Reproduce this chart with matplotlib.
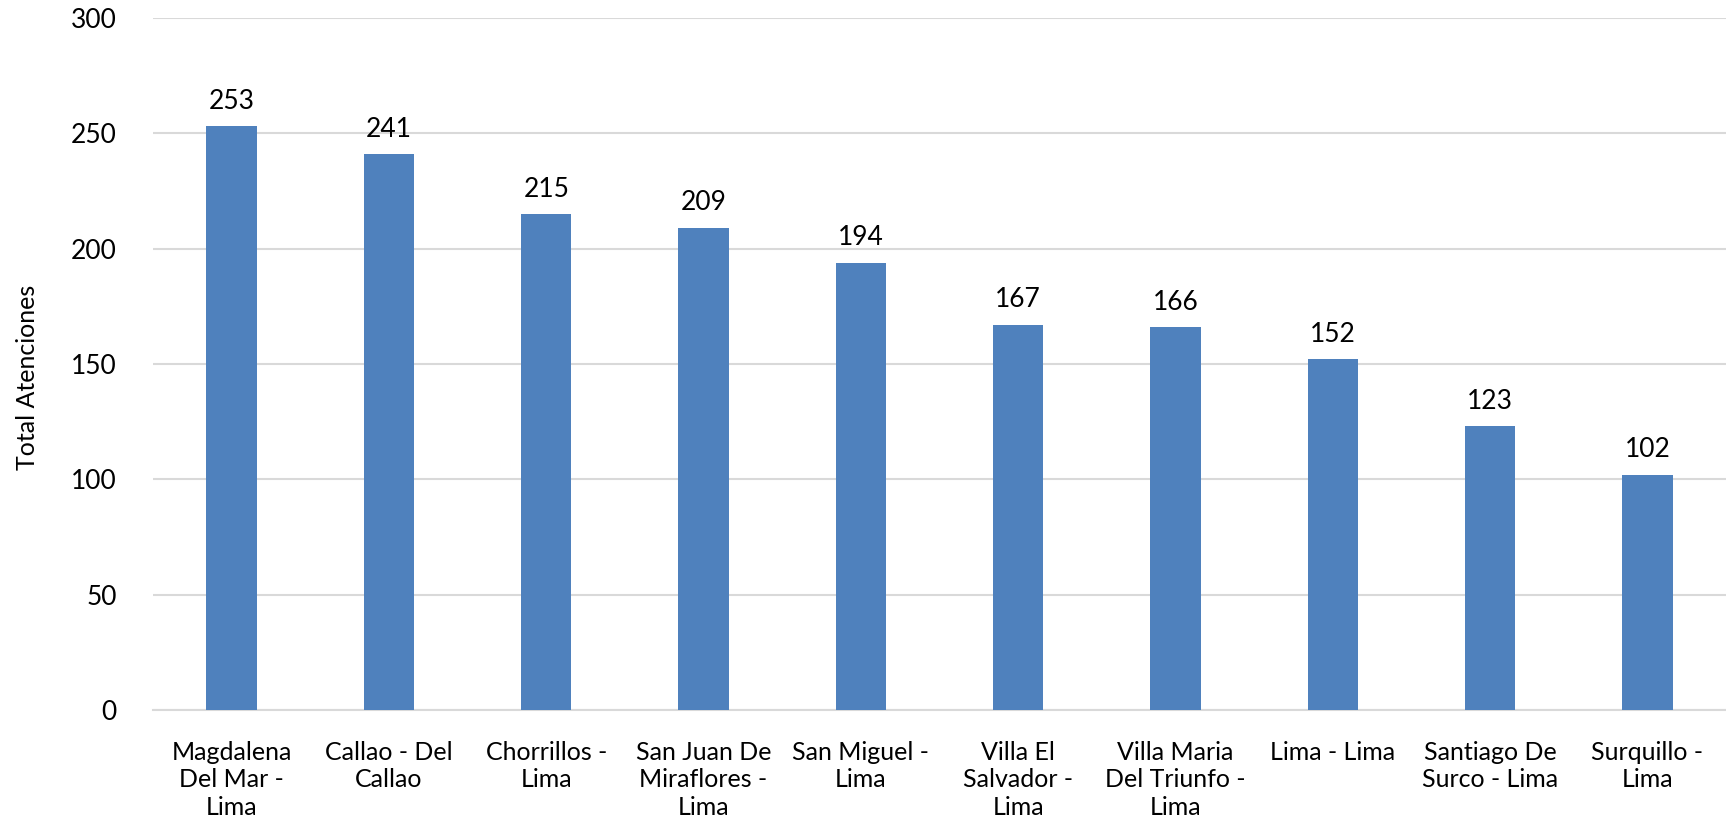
import matplotlib.pyplot as plt
import numpy as np

distritos = ['Magdalena\nDel Mar -\nLima', 'Callao - Del\nCallao', 'Chorrillos -\nLima',
             'San Juan De\nMiraflores -\nLima', 'San Miguel -\nLima', 'Villa El\nSalvador -\nLima',
             'Villa Maria\nDel Triunfo -\nLima', 'Lima - Lima', 'Santiago De\nSurco - Lima',
             'Surquillo -\nLima']
atenciones = [253, 241, 215, 209, 194, 167, 166, 152, 123, 102]
yticks = [0, 50, 100, 150, 200, 250, 300]

plt.rcParams['font.family'] = ['Lato', 'DejaVu Sans']

fig = plt.figure(figsize=(17.26, 8.31), dpi=100)
ax = fig.add_axes([153 / 1726, 1 - 710 / 831, 1 - 153 / 1726, (710 - 18) / 831])

x = np.arange(len(distritos))
bars = ax.bar(x, atenciones, width=0.32, color='#4F81BD', zorder=3)

for b, v in zip(bars, atenciones):
    ax.annotate(str(v), (b.get_x() + b.get_width() / 2, v), xytext=(0, 9),
                textcoords='offset points', ha='center', va='bottom', fontsize=19)

ax.set_xlim(-0.5, len(distritos) - 0.5)
ax.set_ylim(0, 300)
ax.set_yticks(yticks)
ax.set_xticks(x)
ax.set_xticklabels(distritos, fontsize=18, linespacing=1.25)
ax.tick_params(axis='y', labelsize=19, length=0, pad=26)
ax.tick_params(axis='x', length=0, pad=22)
ax.grid(axis='y', color='#D9D9D9', linewidth=1.5, zorder=0)
for s in ['top', 'right', 'left']:
    ax.spines[s].set_visible(False)
ax.spines['bottom'].set_color('#D9D9D9')
ax.spines['bottom'].set_linewidth(1.5)
ax.set_ylabel('Total Atenciones', fontsize=18)
ax.yaxis.set_label_coords(-114 / 1573, 0.48)

fig.savefig('out.png', dpi=100)
